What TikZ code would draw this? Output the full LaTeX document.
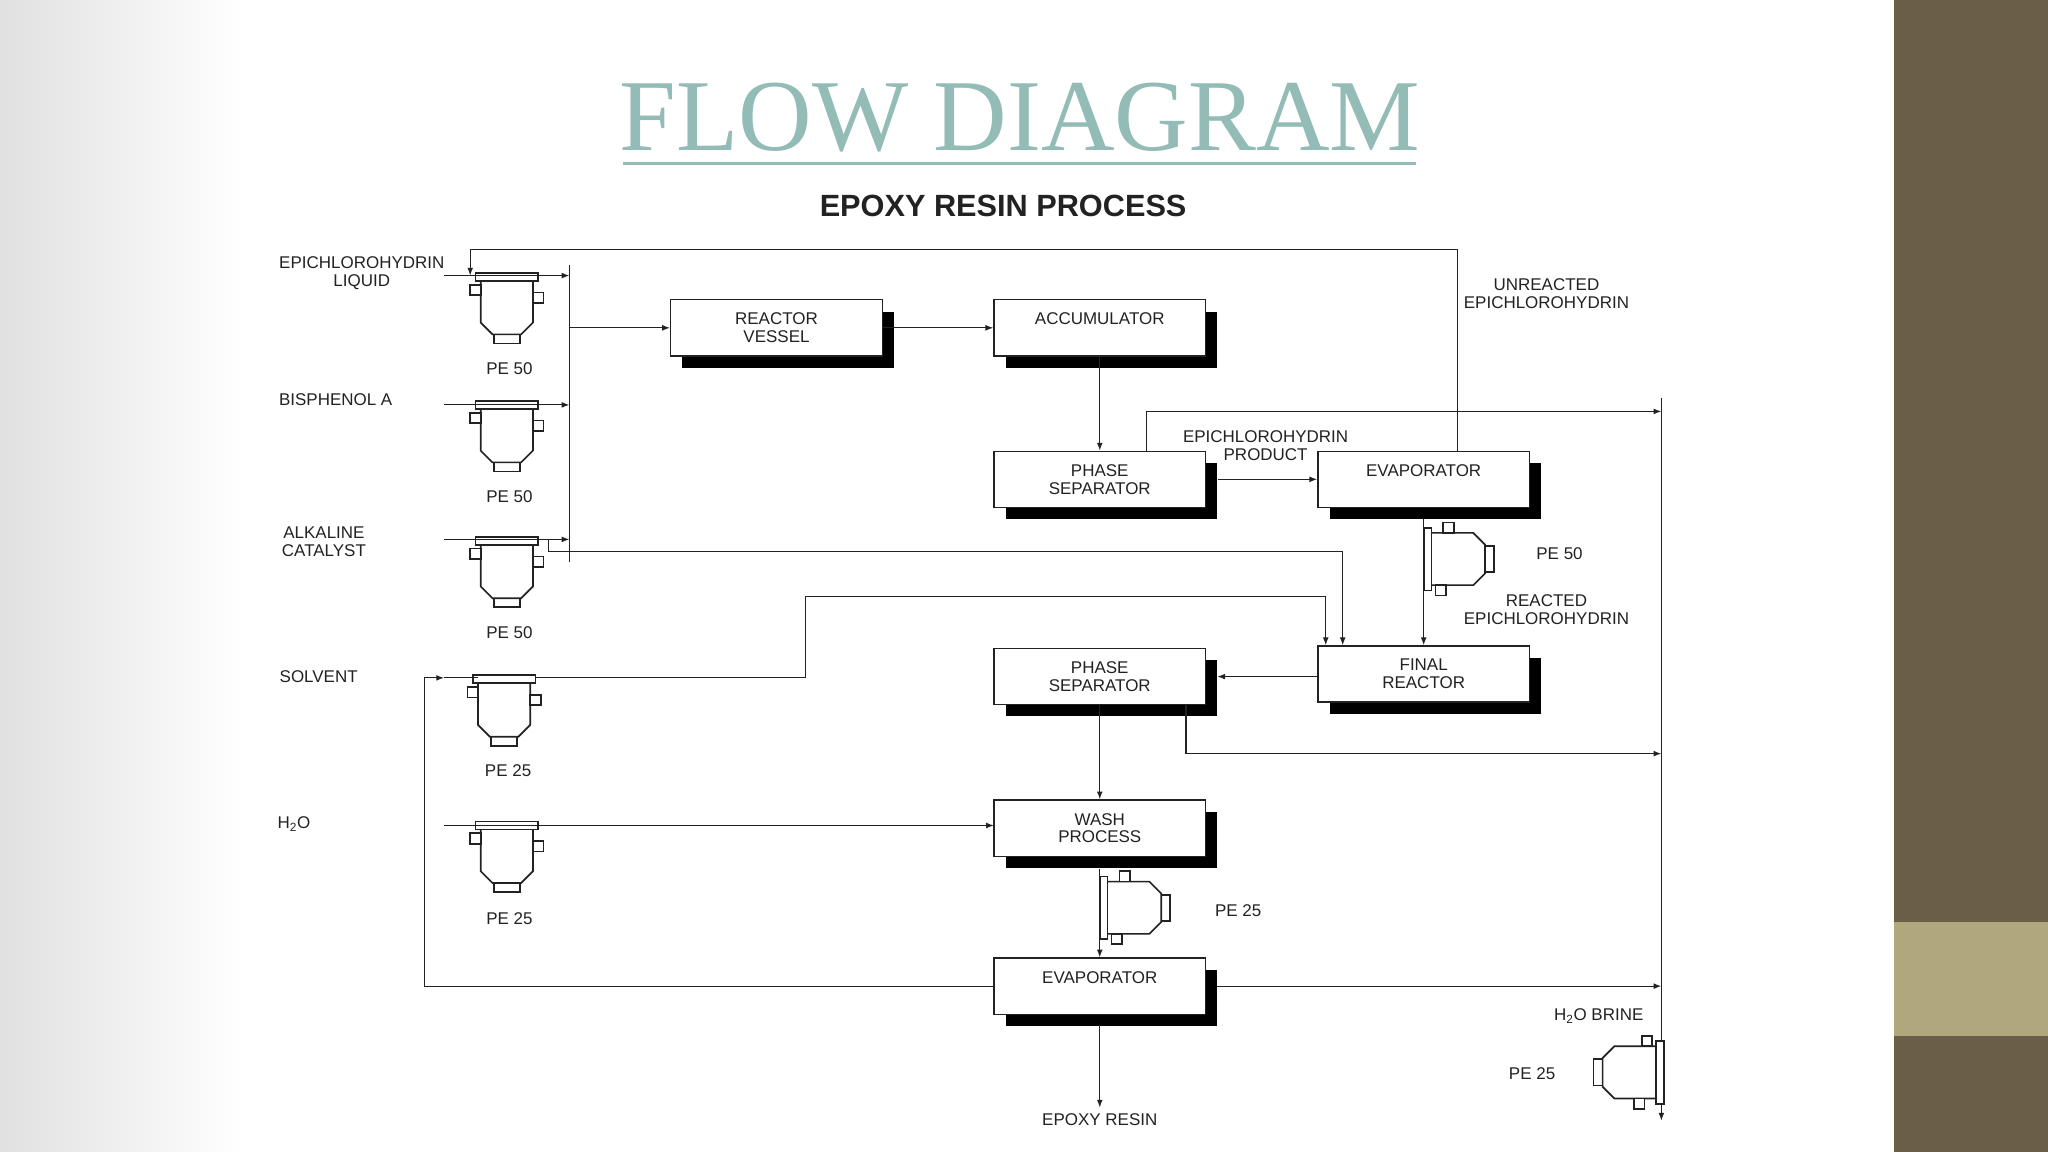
\documentclass[tikz,border=0pt]{standalone}
\usepackage{fontspec}
\setmainfont{Liberation Sans}
\newfontfamily\titlefont{Liberation Serif}
\usetikzlibrary{arrows.meta,shadows}
\definecolor{olive}{HTML}{6B5E47}
\definecolor{band}{HTML}{B1A77C}
\definecolor{ttl}{HTML}{93BCB7}
\definecolor{ln}{HTML}{222222}
\begin{document}
\begin{tikzpicture}[x=1pt,y=-1pt,
  every node/.style={font=\fontsize{13}{13.5}\selectfont, text=ln, inner sep=0pt},
  box/.style={draw=ln, line width=1pt, fill=white, minimum width=162pt, minimum height=43pt, align=center,
    general shadow={fill=black, shadow xshift=9pt, shadow yshift=-9pt}},
  flow/.style={draw=ln, line width=0.9pt, -{Latex[length=6pt,width=4.5pt]}},
  pl/.style={draw=ln, line width=0.9pt},
  lab/.style={align=center},
  pump/.pic={
    \draw[ln, line width=1.3pt, fill=white] (-10,46) rectangle (10,54);
    \draw[ln, line width=1.3pt, fill=white] (-20,5) -- (-20,38) -- (-11,47) -- (11,47) -- (20,38) -- (20,5);
    \draw[ln, line width=1.3pt, fill=white] (-28,9) rectangle (-20,17);
    \draw[ln, line width=1.3pt, fill=white] (20,15) rectangle (28,23);
    \draw[ln, line width=1.3pt, fill=white] (-24,0) rectangle (24,6);
  }]
\useasboundingbox (0,0) rectangle (1568,882);
% background
\fill[white] (0,0) rectangle (1568,882);
\shade[left color=black!12, right color=white] (0,0) rectangle (185,882);
\fill[white] (185,140) rectangle (1450,882);
\fill[olive] (1450,0) rectangle (1568,882);
\fill[band] (1450,706) rectangle (1568,793);
% titles
\node (title) at (781,90) {\titlefont\fontsize{78}{80}\selectfont\color{ttl}FLOW DIAGRAM};
\draw[ttl, line width=2.5pt] (477,125) -- (1084,125);
\node (sub) at (768,158) {\fontsize{23.5}{26}\selectfont\bfseries EPOXY RESIN PROCESS};
% boxes
\node[box] (rv) at (594.5,251) {REACTOR\\VESSEL};
\node[box] (acc) at (842,251) {ACCUMULATOR\\\phantom{X}};
\node[box] (ps1) at (842,367) {PHASE\\SEPARATOR};
\node[box] (ev1) at (1090,367) {EVAPORATOR\\\phantom{X}};
\node[box] (ps2) at (842,518) {PHASE\\SEPARATOR};
\node[box] (fr) at (1090,516) {FINAL\\REACTOR};
\node[box] (wp) at (842,634) {WASH\\PROCESS};
\node[box] (ev2) at (842,755) {EVAPORATOR\\\phantom{X}};
% coordinates
\coordinate (busT) at (436,203); \coordinate (busB) at (436,430);
\coordinate (rtop) at (1272,305); \coordinate (rbot) at (1272,858);
% inlet labels
\node[lab] (l1) at (277,209) {EPICHLOROHYDRIN\\LIQUID};
\node[lab] (l2) at (257,306) {BISPHENOL A};
\node[lab] (l3) at (248,415) {ALKALINE\\CATALYST};
\node[lab] (l4) at (244,518) {SOLVENT};
\node[lab] (l5) at (225,631) {H\textsubscript{2}O};
% pumps vertical
\pic at (388,209) {pump}; \node (p1) at (390,282) {PE 50};
\pic at (388,307) {pump}; \node (p2) at (390,380) {PE 50};
\pic at (388,411) {pump}; \node (p3) at (390,484) {PE 50};
\pic at (386,517) {pump}; \node (p4) at (389,590) {PE 25};
\pic at (388,629) {pump}; \node (p5) at (390,703) {PE 25};
% bus
\draw[pl] (busT) -- (busB);
\coordinate (i1) at (340,211); \coordinate (i2) at (340,310); \coordinate (i3) at (340,413);
\draw[flow] (i1) -- (436,211);
\draw[flow] (i2) -- (436,310);
\draw[flow] (i3) -- (436,413);
\draw[flow] (436,251) -- (rv.west);
\draw[flow] (rv.east) -- (acc.west);
\draw[flow] (acc.south) -- (ps1.north);
\draw[flow] (ps1.east)++(9,0) -- (ev1.west);
\node[lab] (ep) at (969,341) {EPICHLOROHYDRIN\\PRODUCT};
% right collector
\draw[flow] (rtop) -- (rbot);
\draw[flow] (878,345) -- (878,315) -- (1272,315);
% unreacted recycle
\draw[flow] (1116,345) -- (1116,191) -- (360,191) -- (360,211);
\node[lab] (ur) at (1184,225) {UNREACTED\\EPICHLOROHYDRIN};
% alkaline to final reactor
\draw[flow] (420,413) -- (420,422) -- (1028,422) -- (1028,494);
% evaporator 1 to final reactor
\draw[flow] (1090,397) -- (1090,494);
\pic[rotate=90] at (1090,428) {pump};
\node (p6) at (1194,424) {PE 50};
\node[lab] (re) at (1184,467) {REACTED\\EPICHLOROHYDRIN};
% solvent
\draw[flow] (410,519) -- (617,519) -- (617,457) -- (1015,457) -- (1015,494);
\draw[flow] (ev2.west) -- (325,755) -- (325,519) -- (340,519);
\draw[pl] (340,519) -- (366,519);
% final reactor -> phase sep 2
\draw[flow] (1009,518) -- (932,518);
\draw[flow] (908,540) -- (908,577) -- (1272,577);
\draw[flow] (ps2.south) -- (wp.north);
% water
\draw[flow] (340,632) -- (761,632);
% wash to evaporator
\draw[flow] (842,665) -- (ev2.north);
\pic[rotate=90] at (842,695) {pump};
\node (p7) at (948,697) {PE 25};
\draw[flow] (932,755) -- (1272,755);
\coordinate (er) at (842,848);
\draw[flow] (842,785) -- (er);
\node (epx) at (842,857) {EPOXY RESIN};
% brine
\node (hb) at (1224,778) {H\textsubscript{2}O BRINE};
\node (p8) at (1173,822) {PE 25};
\pic[rotate=-90] at (1274,821) {pump};
\end{tikzpicture}
\end{document}
